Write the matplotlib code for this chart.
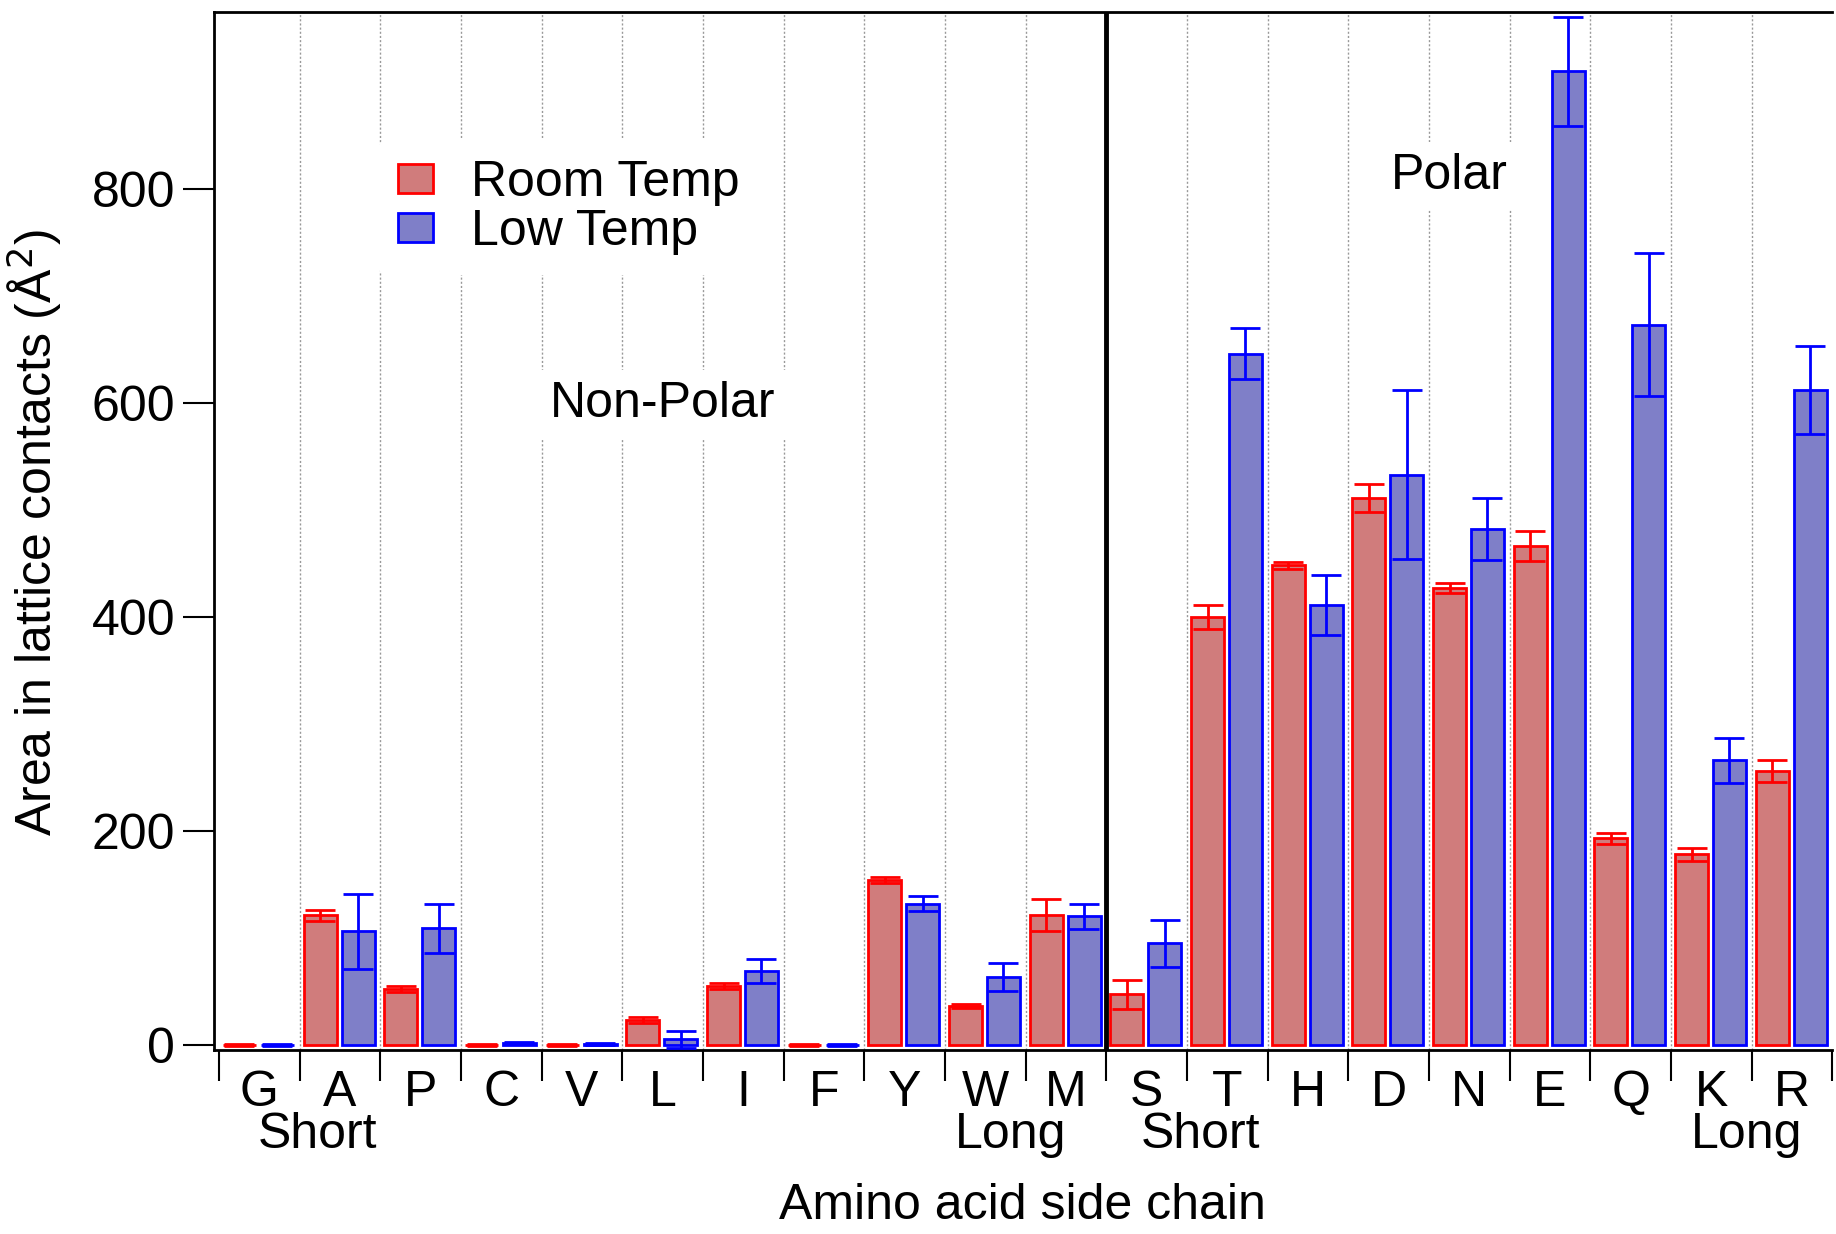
import numpy as np
import matplotlib.pyplot as plt
from matplotlib.patches import Patch

plt.rcParams['font.family'] = ['Liberation Sans', 'DejaVu Sans']

residues = ['G', 'A', 'P', 'C', 'V', 'L', 'I', 'F', 'Y', 'W', 'M',
            'S', 'T', 'H', 'D', 'N', 'E', 'Q', 'K', 'R']
room = [0, 121, 52, 0, 0, 23, 55, 0, 154, 36, 121,
        47, 400, 448, 511, 427, 466, 193, 178, 256]
room_err = [1, 5, 3, 1, 1, 3, 3, 1, 3, 2, 15,
            14, 11, 3, 13, 5, 14, 5, 6, 10]
low = [0, 106, 109, 2, 1, 5, 69, 0, 132, 63, 120,
       95, 646, 411, 533, 482, 910, 673, 266, 612]
low_err = [1, 35, 23, 1, 1, 8, 11, 1, 7, 13, 12,
           22, 24, 28, 79, 29, 51, 67, 21, 41]

red_fill = '#d07c7c'
blue_fill = '#7f7fc8'
fs = 36

fig = plt.figure(figsize=(18.36, 12.34), dpi=100)
ax = fig.add_axes([0.1166, 0.149, 0.8814, 0.841])

x = np.arange(len(residues))
w = 0.41
ax.bar(x + 0.255, room, w, color=red_fill, edgecolor='#ff0000', linewidth=2, zorder=3)
ax.bar(x + 0.725, low, w, color=blue_fill, edgecolor='#0000ff', linewidth=2, zorder=3)
ax.errorbar(x + 0.255, room, yerr=room_err, fmt='none', ecolor='#ff0000',
            elinewidth=2, capsize=11, capthick=2, zorder=4)
ax.errorbar(x + 0.725, low, yerr=low_err, fmt='none', ecolor='#0000ff',
            elinewidth=2, capsize=11, capthick=2, zorder=4)

# group boundaries
for b in range(1, len(residues)):
    if b == 11:
        ax.axvline(b, color='black', linewidth=3.5, zorder=5)
    else:
        ax.axvline(b, color='#999999', linestyle=(0, (1.5, 1.5)), linewidth=1, zorder=1)

ax.set_xlim(-0.06, 20)
ax.set_ylim(-5, 965)

ax.set_xticks(np.arange(0, 21))
ax.set_xticklabels([])
ax.set_xticks(x + 0.5, minor=True)
ax.set_xticklabels(residues, minor=True)
ax.tick_params(axis='x', which='major', length=22, width=1.5, direction='out')
ax.tick_params(axis='x', which='minor', length=0, pad=14, labelsize=fs)
ax.set_yticks([0, 200, 400, 600, 800])
ax.tick_params(axis='y', length=22, width=1.5, labelsize=fs, pad=6)

ax.spines['right'].set_visible(False)
for s in ['left', 'top', 'bottom']:
    ax.spines[s].set_linewidth(2)

fig.text(0.019, 0.568, 'Area in lattice contacts (Å$^2$)', fontsize=fs,
         rotation=90, ha='center', va='center')
fig.text(0.557, 0.0227, 'Amino acid side chain', fontsize=fs, ha='center', va='center')

for xs, lab in [(1.22, 'Short'), (9.81, 'Long'), (12.17, 'Short'), (18.94, 'Long')]:
    ax.text(xs, -84, lab, ha='center', va='center', fontsize=fs, clip_on=False)

ax.text(5.5, 599, 'Non-Polar', ha='center', va='center', fontsize=fs,
        bbox=dict(facecolor='white', edgecolor='none', pad=8), zorder=6)
ax.text(15.25, 812, 'Polar', ha='center', va='center', fontsize=fs,
        bbox=dict(facecolor='white', edgecolor='none', pad=8), zorder=6)

handles = [Patch(facecolor=red_fill, edgecolor='#ff0000', linewidth=2),
           Patch(facecolor=blue_fill, edgecolor='#0000ff', linewidth=2)]
leg = ax.legend(handles, ['Room Temp', 'Low Temp'], loc='upper left',
                bbox_to_anchor=(0.086, 0.901), fontsize=fs, frameon=True,
                edgecolor='none', framealpha=1, handlelength=0.7, handleheight=0.52,
                labelspacing=0.06, handletextpad=0.75, borderpad=0.4)
leg.set_zorder(6)

fig.savefig('out.png', dpi=100)
